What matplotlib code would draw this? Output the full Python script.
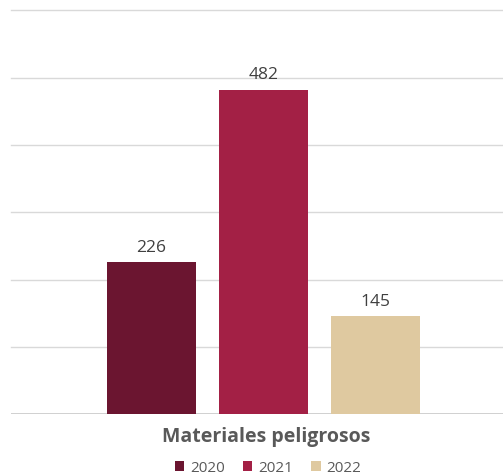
import matplotlib.pyplot as plt
from matplotlib.patches import Patch

years = ['2020', '2021', '2022']
values = [226, 482, 145]
colors = ['#6B1530', '#A32045', '#DFC9A0']
category = 'Materiales peligrosos'

plt.rcParams['font.family'] = ['Open Sans', 'DejaVu Sans']

fig = plt.figure(figsize=(5.03, 4.77), dpi=100)
ax = fig.add_axes([11 / 503, 1 - 415 / 477, 1 - 11 / 503, (415 - 11.5) / 477])

xs = [0, 1, 2]
bars = ax.bar(xs, values, width=0.79, color=colors, zorder=3)
for x, v in zip(xs, values):
    ax.text(x, v + 11, str(v), ha='center', va='bottom', fontsize=12.5, color='#404040')

ax.set_ylim(0, 600)
ax.set_xlim(-1.254, 3.14)
ax.set_yticks(range(100, 601, 100))
ax.grid(axis='y', color='#D9D9D9', linewidth=1, zorder=0)
for gl in ax.get_ygridlines():
    gl.set_clip_on(False)
ax.axhline(0, color='#C8C8C8', linewidth=1.2, zorder=2)
ax.tick_params(left=False, bottom=False, labelleft=False, labelbottom=False)
for s in ['top', 'right', 'left', 'bottom']:
    ax.spines[s].set_visible(False)

fig.text(266 / 503, 1 - 437 / 477, category, ha='center', va='center',
         fontsize=14, fontweight='bold', color='#595959')

handles = [Patch(facecolor=c, label=y) for c, y in zip(colors, years)]
fig.legend(handles=handles, loc='center', bbox_to_anchor=(268 / 503, 1 - 469 / 477),
           ncol=3, frameon=False, fontsize=11, handlelength=0.6, handleheight=0.6,
           handletextpad=0.4, columnspacing=1.2, labelcolor='#595959')

fig.savefig('out.png', dpi=100)
